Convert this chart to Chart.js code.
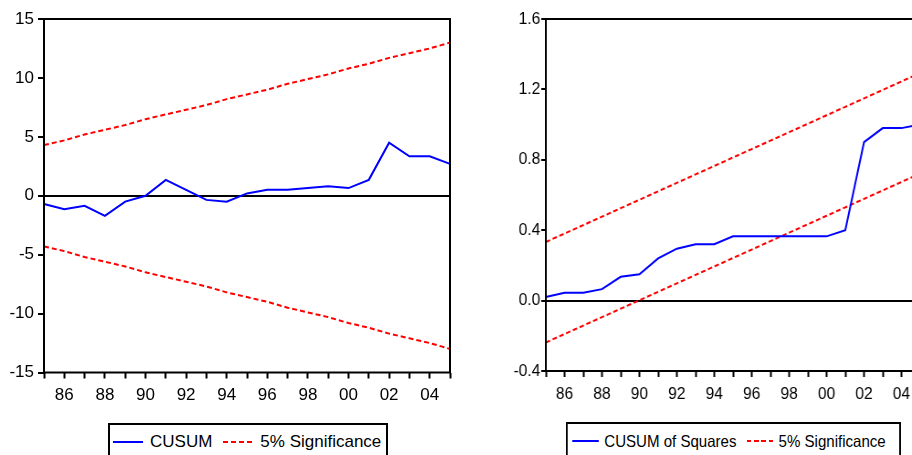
<!DOCTYPE html>
<html>
<head>
<meta charset="utf-8">
<script src="https://cdn.jsdelivr.net/npm/chart.js@4.4.0/dist/chart.umd.min.js"></script>
<style>
  html, body { margin: 0; padding: 0; background: #fff; }
  body { width: 912px; height: 455px; overflow: hidden; position: relative; font-family: 'Liberation Sans', Arial, sans-serif; }
  #leftBox { position: absolute; left: 0; top: 0; width: 460px; height: 455px; }
  #rightBox { position: absolute; left: 460px; top: 0; width: 520px; height: 455px; transform: scaleX(0.913); transform-origin: 0 0; }
  canvas { position: absolute; left: 0; top: 0; }
  .legend { position: absolute; box-sizing: border-box; border: 2px solid #000; height: 38px; display: flex; align-items: center; color: #000; white-space: nowrap; background: #fff; }
  .legend .item { display: flex; align-items: center; }
  .legend .swatch { display: inline-block; height: 2px; }
  #leftLegend { left: 108px; top: 423px; width: 280px; font-size: 17px; }
  #rightLegend { left: 116px; top: 422px; width: 367px; font-size: 16.5px; }
</style>
</head>
<body>
<div id="leftBox">
  <canvas id="cusumChart" width="460" height="455"></canvas>
  <div class="legend" id="leftLegend"></div>
</div>
<div id="rightBox">
  <canvas id="cusumSqChart" width="520" height="455"></canvas>
  <div class="legend" id="rightLegend"></div>
</div>
<script>
var years = ['1985', '1986', '1987', '1988', '1989', '1990', '1991', '1992', '1993', '1994', '1995',
             '1996', '1997', '1998', '1999', '2000', '2001', '2002', '2003', '2004', '2005'];

// left panel: CUSUM and its 5% bands
var cusum = [-0.7, -1.15, -0.85, -1.7, -0.5, 0.0, 1.35, 0.5, -0.35, -0.5, 0.2,
             0.5, 0.5, 0.65, 0.8, 0.65, 1.35, 4.5, 3.35, 3.35, 2.7];
var cusumUpper = [4.3, 4.7, 5.2, 5.6, 6.0, 6.5, 6.9, 7.3, 7.7, 8.2, 8.6,
                  9.0, 9.5, 9.9, 10.3, 10.8, 11.2, 11.7, 12.1, 12.5, 13.0];
var cusumLower = [-4.3, -4.7, -5.2, -5.6, -6.0, -6.5, -6.9, -7.3, -7.7, -8.2, -8.6,
                  -9.0, -9.5, -9.9, -10.3, -10.8, -11.2, -11.7, -12.1, -12.5, -13.0];

// right panel: CUSUM of squares and its 5% bands
var cusumSq = [0.02, 0.045, 0.045, 0.065, 0.135, 0.15, 0.24, 0.295, 0.32, 0.32, 0.365,
               0.365, 0.365, 0.365, 0.365, 0.365, 0.40, 0.90, 0.98, 0.98, 1.0];
var sqUpper = [0.333, 0.381, 0.429, 0.477, 0.525, 0.573, 0.621, 0.669, 0.717, 0.765, 0.813,
               0.861, 0.909, 0.957, 1.005, 1.053, 1.101, 1.149, 1.197, 1.245, 1.293];
var sqLower = [-0.238, -0.190, -0.142, -0.094, -0.046, 0.002, 0.050, 0.098, 0.146, 0.194, 0.242,
               0.290, 0.338, 0.386, 0.434, 0.482, 0.530, 0.578, 0.626, 0.674, 0.722];

Chart.defaults.font.family = "'Liberation Sans', Arial, sans-serif";
Chart.defaults.font.size = 17;
Chart.defaults.color = '#000';

// black box round the plot area
var framePlugin = {
  id: 'frame',
  afterDatasetsDraw: function(chart) {
    var a = chart.chartArea, ctx = chart.ctx;
    ctx.save();
    ctx.strokeStyle = '#000';
    ctx.lineWidth = 2;
    ctx.strokeRect(a.left, a.top, a.right - a.left, a.bottom - a.top);
    ctx.restore();
  }
};

function line(label, data, color, dashed) {
  return {
    label: label,
    data: data,
    borderColor: color,
    borderWidth: 2,
    borderDash: dashed ? [5, 3] : undefined,
    pointRadius: 0,
    tension: 0,
    fill: false
  };
}

function makeChart(id, datasets, y, box) {
  return new Chart(document.getElementById(id), {
    type: 'line',
    data: { labels: years, datasets: datasets },
    plugins: [framePlugin],
    options: {
      responsive: false,
      animation: false,
      devicePixelRatio: 1,
      layout: { padding: { top: 19, right: box.right, left: 0, bottom: 0 } },
      plugins: { legend: { display: false }, tooltip: { enabled: false } },
      scales: {
        x: {
          type: 'category',
          offset: false,
          border: { display: false },
          grid: { drawOnChartArea: false, tickLength: 6, tickColor: '#000', tickWidth: 2 },
          ticks: {
            autoSkip: false, maxRotation: 0, padding: 7,
            callback: function(v, i) {
              var yr = parseInt(years[i], 10);
              return yr % 2 === 0 ? years[i].slice(2) : '';
            }
          },
          afterFit: function(s) { s.height = box.xHeight; }
        },
        y: {
          min: y.min, max: y.max,
          border: { display: false },
          grid: {
            drawOnChartArea: true,
            color: function(c) { return c.tick && Math.abs(c.tick.value) < 1e-9 ? '#000' : 'rgba(0,0,0,0)'; },
            lineWidth: 2,
            tickLength: y.tickLength, tickColor: '#000', tickWidth: 2
          },
          ticks: {
            stepSize: y.step, padding: y.padding,
            callback: function(v) { return v.toFixed(y.decimals); }
          },
          afterFit: function(s) { s.width = box.yWidth; }
        }
      }
    }
  });
}

function buildLegend(chart, el, first, between, swatch, gap) {
  var seen = {};
  var n = 0;
  chart.data.datasets.forEach(function(ds) {
    if (seen[ds.label]) return;
    seen[ds.label] = true;
    var item = document.createElement('span');
    item.className = 'item';
    item.style.marginLeft = (n === 0 ? first : between) + 'px';
    var sw = document.createElement('span');
    sw.className = 'swatch';
    sw.style.width = swatch + 'px';
    sw.style.marginRight = gap + 'px';
    sw.style.background = ds.borderDash
      ? 'repeating-linear-gradient(to right, ' + ds.borderColor + ' 0 5px, transparent 5px 8px)'
      : ds.borderColor;
    var txt = document.createElement('span');
    txt.textContent = ds.label;
    item.appendChild(sw);
    item.appendChild(txt);
    el.appendChild(item);
    n++;
  });
}

var leftChart = makeChart('cusumChart', [
  line('CUSUM', cusum, '#0000ff', false),
  line('5% Significance', cusumUpper, '#ff0000', true),
  line('5% Significance', cusumLower, '#ff0000', true)
], { min: -15, max: 15, step: 5, decimals: 0, tickLength: 6, padding: 4 },
   { right: 10, yWidth: 44, xHeight: 82.5 });

var rightChart = makeChart('cusumSqChart', [
  line('CUSUM of Squares', cusumSq, '#0000ff', false),
  line('5% Significance', sqUpper, '#ff0000', true),
  line('5% Significance', sqLower, '#ff0000', true)
], { min: -0.4, max: 1.6, step: 0.4, decimals: 1, tickLength: 5, padding: 1 },
   { right: 16, yWidth: 94, xHeight: 84 });

buildLegend(leftChart, document.getElementById('leftLegend'), 3, 11, 30, 7);
buildLegend(rightChart, document.getElementById('rightLegend'), 5, 11, 29, 6);
</script>
</body>
</html>
